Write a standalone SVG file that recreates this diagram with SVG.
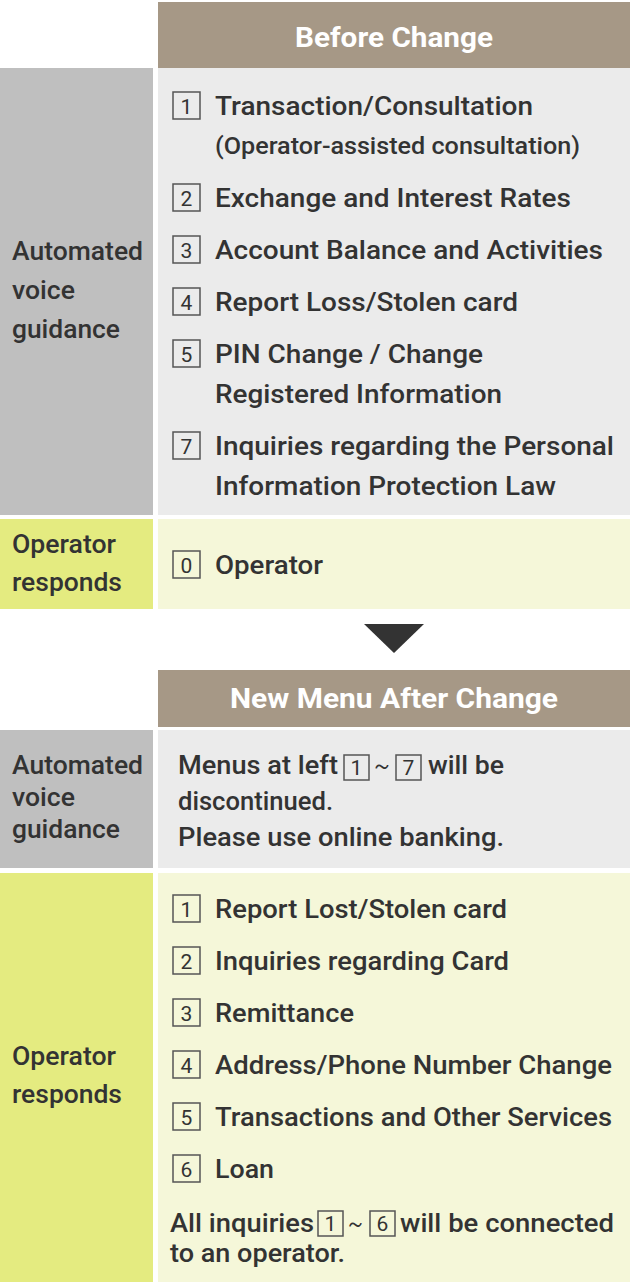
<svg xmlns="http://www.w3.org/2000/svg" width="630" height="1282" viewBox="0 0 630 1282">
<style>
text{font-family:Roboto,"Liberation Sans",sans-serif;fill:#333;font-size:26px;font-weight:500;lengthAdjust:spacingAndGlyphs}
.h{fill:#fff;font-weight:bold;font-size:28px;text-anchor:middle}
.s{font-size:23px}
.b{fill:none;stroke:#555;stroke-width:1.5}
.n{font-size:21px;text-anchor:middle;font-weight:normal}
</style>
<rect width="630" height="1282" fill="#fff"/>
<g id="before">
<rect x="158" y="2" width="472" height="66" fill="#a69886"/>
<text class="h" x="394" y="47" textLength="198" lengthAdjust="spacingAndGlyphs">Before Change</text>
<rect x="0" y="68" width="153" height="447" fill="#bfbfbf"/>
<text x="12" y="260" textLength="131" lengthAdjust="spacingAndGlyphs">Automated</text><text x="12" y="299" textLength="63" lengthAdjust="spacingAndGlyphs">voice</text><text x="12" y="338" textLength="108" lengthAdjust="spacingAndGlyphs">guidance</text>
<rect x="158" y="68" width="472" height="447" fill="#ebebeb"/>
<rect class="b" x="173" y="92" width="27" height="27"/><text class="n" x="186.5" y="114">1</text>
<text x="215" y="115" textLength="318" lengthAdjust="spacingAndGlyphs">Transaction/Consultation</text>
<text class="s" x="215" y="154" textLength="365" lengthAdjust="spacingAndGlyphs">(Operator-assisted consultation)</text>
<rect class="b" x="173" y="184" width="27" height="27"/><text class="n" x="186.5" y="206">2</text>
<text x="215" y="207" textLength="356" lengthAdjust="spacingAndGlyphs">Exchange and Interest Rates</text>
<rect class="b" x="173" y="236" width="27" height="27"/><text class="n" x="186.5" y="258">3</text>
<text x="215" y="259" textLength="388" lengthAdjust="spacingAndGlyphs">Account Balance and Activities</text>
<rect class="b" x="173" y="288" width="27" height="27"/><text class="n" x="186.5" y="310">4</text>
<text x="215" y="311" textLength="303" lengthAdjust="spacingAndGlyphs">Report Loss/Stolen card</text>
<rect class="b" x="173" y="340" width="27" height="27"/><text class="n" x="186.5" y="362">5</text>
<text x="215" y="363" textLength="268" lengthAdjust="spacingAndGlyphs">PIN Change / Change</text>
<text x="215" y="403" textLength="287" lengthAdjust="spacingAndGlyphs">Registered Information</text>
<rect class="b" x="173" y="432" width="27" height="27"/><text class="n" x="186.5" y="454">7</text>
<text x="215" y="455" textLength="399" lengthAdjust="spacingAndGlyphs">Inquiries regarding the Personal</text>
<text x="215" y="495" textLength="341" lengthAdjust="spacingAndGlyphs">Information Protection Law</text>
</g>
<g id="before-op">
<rect x="0" y="519" width="153" height="90" fill="#e4eb80"/>
<text x="12" y="553" textLength="104" lengthAdjust="spacingAndGlyphs">Operator</text><text x="12" y="591" textLength="110" lengthAdjust="spacingAndGlyphs">responds</text>
<rect x="158" y="519" width="472" height="90" fill="#f5f7d9"/>
<rect class="b" x="173" y="551" width="27" height="27"/><text class="n" x="186.5" y="573">0</text>
<text x="215" y="574" textLength="108" lengthAdjust="spacingAndGlyphs">Operator</text>
</g>
<g id="connectors"><polygon points="364,624 424,624 394,653" fill="#333"/></g>
<g id="after">
<rect x="158" y="670" width="472" height="57" fill="#a69886"/>
<text class="h" x="394" y="708" textLength="328" lengthAdjust="spacingAndGlyphs">New Menu After Change</text>
<rect x="0" y="730" width="153" height="138" fill="#bfbfbf"/>
<text x="12" y="774" textLength="131" lengthAdjust="spacingAndGlyphs">Automated</text><text x="12" y="806" textLength="63" lengthAdjust="spacingAndGlyphs">voice</text><text x="12" y="838" textLength="108" lengthAdjust="spacingAndGlyphs">guidance</text>
<rect x="158" y="730" width="472" height="138" fill="#ebebeb"/>
<text x="178" y="774" textLength="160" lengthAdjust="spacingAndGlyphs">Menus at left</text>
<rect class="b" x="344" y="755" width="25" height="25"/><text class="n" x="356.5" y="775">1</text>
<text x="371" y="774" textLength="22" lengthAdjust="spacingAndGlyphs">～</text>
<rect class="b" x="396" y="755" width="25" height="25"/><text class="n" x="408.5" y="775">7</text>
<text x="428" y="774" textLength="76" lengthAdjust="spacingAndGlyphs">will be</text>
<text x="178" y="810" textLength="155" lengthAdjust="spacingAndGlyphs">discontinued.</text>
<text x="178" y="846" textLength="326" lengthAdjust="spacingAndGlyphs">Please use online banking.</text>
</g>
<g id="after-op">
<rect x="0" y="873" width="153" height="409" fill="#e4eb80"/>
<text x="12" y="1065" textLength="104" lengthAdjust="spacingAndGlyphs">Operator</text><text x="12" y="1103" textLength="110" lengthAdjust="spacingAndGlyphs">responds</text>
<rect x="158" y="873" width="472" height="409" fill="#f5f7d9"/>
<rect class="b" x="173" y="895" width="27" height="27"/><text class="n" x="186.5" y="917">1</text>
<text x="215" y="918" textLength="292" lengthAdjust="spacingAndGlyphs">Report Lost/Stolen card</text>
<rect class="b" x="173" y="947" width="27" height="27"/><text class="n" x="186.5" y="969">2</text>
<text x="215" y="970" textLength="294" lengthAdjust="spacingAndGlyphs">Inquiries regarding Card</text>
<rect class="b" x="173" y="999" width="27" height="27"/><text class="n" x="186.5" y="1021">3</text>
<text x="215" y="1022" textLength="139" lengthAdjust="spacingAndGlyphs">Remittance</text>
<rect class="b" x="173" y="1051" width="27" height="27"/><text class="n" x="186.5" y="1073">4</text>
<text x="215" y="1074" textLength="397" lengthAdjust="spacingAndGlyphs">Address/Phone Number Change</text>
<rect class="b" x="173" y="1103" width="27" height="27"/><text class="n" x="186.5" y="1125">5</text>
<text x="215" y="1126" textLength="397" lengthAdjust="spacingAndGlyphs">Transactions and Other Services</text>
<rect class="b" x="173" y="1155" width="27" height="27"/><text class="n" x="186.5" y="1177">6</text>
<text x="215" y="1178" textLength="59" lengthAdjust="spacingAndGlyphs">Loan</text>
<text x="170" y="1232" textLength="144" lengthAdjust="spacingAndGlyphs">All inquiries</text>
<rect class="b" x="318" y="1211" width="25" height="25"/><text class="n" x="330.5" y="1231">1</text>
<text x="345" y="1232" textLength="21" lengthAdjust="spacingAndGlyphs">～</text>
<rect class="b" x="370" y="1211" width="25" height="25"/><text class="n" x="382.5" y="1231">6</text>
<text x="400" y="1232" textLength="214" lengthAdjust="spacingAndGlyphs">will be connected</text>
<text x="170" y="1262" textLength="175" lengthAdjust="spacingAndGlyphs">to an operator.</text>
</g>
</svg>
